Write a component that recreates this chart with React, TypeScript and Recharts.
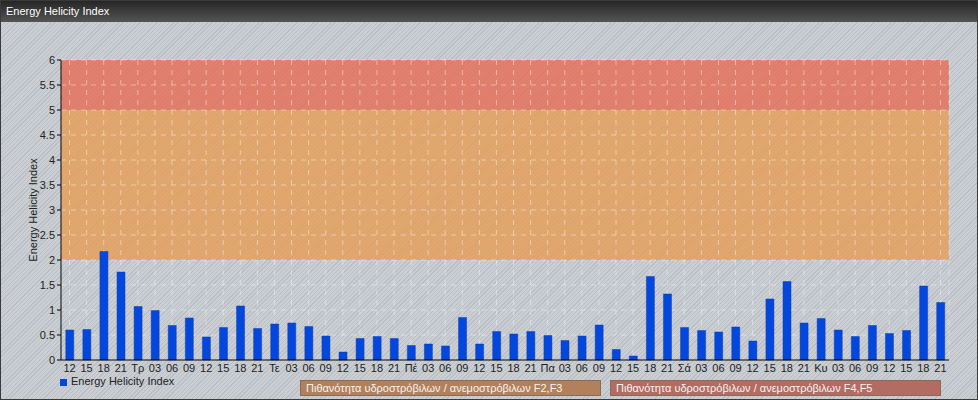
import React from "react";
import {
  BarChart,
  Bar,
  XAxis,
  YAxis,
  CartesianGrid,
} from "recharts";

const hours = [
  "12", "15", "18", "21",
  "Τρ", "03", "06", "09", "12", "15", "18", "21",
  "Τε", "03", "06", "09", "12", "15", "18", "21",
  "Πέ", "03", "06", "09", "12", "15", "18", "21",
  "Πα", "03", "06", "09", "12", "15", "18", "21",
  "Σά", "03", "06", "09", "12", "15", "18", "21",
  "Κυ", "03", "06", "09", "12", "15", "18", "21",
];

const ehiValues = [
  0.6, 0.61, 2.17, 1.76,
  1.07, 0.99, 0.69, 0.84, 0.46, 0.65, 1.08, 0.63,
  0.72, 0.74, 0.67, 0.48, 0.16, 0.43, 0.47, 0.43,
  0.29, 0.32, 0.28, 0.85, 0.32, 0.57, 0.52, 0.57,
  0.49, 0.39, 0.48, 0.7, 0.21, 0.08, 1.67, 1.32,
  0.65, 0.59, 0.56, 0.66, 0.38, 1.22, 1.57, 0.74,
  0.83, 0.6, 0.47, 0.69, 0.53, 0.59, 1.48, 1.15,
];

const yTicks = [0, 0.5, 1, 1.5, 2, 2.5, 3, 3.5, 4, 4.5, 5, 5.5, 6];

const bands = [
  { from: 2, to: 5, color: "#e69c56", label: "Πιθανότητα υδροστρόβιλων / ανεμοστρόβιλων F2,F3", legend: "#b3805c" },
  { from: 5, to: 6, color: "#e66c54", label: "Πιθανότητα υδροστρόβιλων / ανεμοστρόβιλων F4,F5", legend: "#b26c62" },
];

const data = hours.map((h, i) => ({ id: i, hour: h, ehi: ehiValues[i] }));

// stripe colours from the top tick downwards: each stripe gets the band it sits in
const stripeFill = [...yTicks].reverse().map((t) => {
  const band = bands.find((b) => t > b.from && t <= b.to);
  return band ? band.color : "transparent";
});

const font = "'Liberation Sans', Arial, sans-serif";
const hatch =
  "repeating-linear-gradient(135deg, #cbcfd3 0px, #cbcfd3 2px, #b9bfc5 2px, #b9bfc5 3px)";

function AxisTitle() {
  return (
    <text
      x={33}
      y={210}
      transform="rotate(-90 33 210)"
      textAnchor="middle"
      dominantBaseline="central"
      fontSize={11}
      fill="#222"
    >
      Energy Helicity Index
    </text>
  );
}

export default function App() {
  return (
    <div
      style={{
        position: "relative",
        width: 976,
        height: 398,
        border: "1px solid #3a3a3a",
        background: hatch,
        fontFamily: font,
        overflow: "hidden",
      }}
    >
      <style>{"body{margin:0}"}</style>
      <div
        style={{
          position: "absolute",
          left: 0,
          top: 0,
          width: 976,
          height: 21,
          background: "linear-gradient(#262626, #545454)",
          color: "#fff",
          fontSize: 11,
          lineHeight: "21px",
          paddingLeft: 5,
          boxSizing: "border-box",
        }}
      >
        Energy Helicity Index
      </div>
      <div style={{ position: "absolute", left: -1, top: -1 }}>
        <BarChart
          width={978}
          height={400}
          data={data}
          margin={{ top: 60, right: 29, bottom: 22, left: 20 }}
          barCategoryGap="28%"
          style={{ fontFamily: font }}
        >
          <CartesianGrid
            stroke="#ffffff"
            strokeOpacity={0.42}
            strokeDasharray="5 5"
            horizontalFill={stripeFill}
            fillOpacity={0.8}
          />
          <XAxis
            dataKey="id"
            tickFormatter={(i: number) => hours[i]}
            interval={0}
            tickLine={false}
            tickSize={2}
            tickMargin={2}
            height={18}
            stroke="#000"
            tick={{ fill: "#222", fontSize: 11 }}
          />
          <YAxis
            domain={[0, 6]}
            ticks={yTicks}
            interval={0}
            width={41}
            tickSize={4}
            tickMargin={2}
            stroke="#000"
            tick={{ fill: "#222", fontSize: 11 }}
            label={{ content: () => <AxisTitle /> }}
          />
          <Bar
            dataKey="ehi"
            fill="#0447dc"
            stroke="#0a3fb8"
            strokeWidth={0.5}
            isAnimationActive={false}
          />
        </BarChart>
      </div>
      <div
        style={{
          position: "absolute",
          left: 59,
          top: 374,
          fontSize: 11,
          color: "#222",
          display: "flex",
          alignItems: "center",
        }}
      >
        <span
          style={{
            display: "inline-block",
            width: 7,
            height: 7,
            background: "#0447dc",
            marginRight: 4,
            marginTop: 3,
          }}
        />
        Energy Helicity Index
      </div>
      {bands.map((b, i) => (
        <div
          key={b.label}
          style={{
            position: "absolute",
            left: i === 0 ? 299 : 609,
            top: 379,
            width: i === 0 ? 301 : 331,
            height: 16,
            boxSizing: "border-box",
            background: b.legend,
            border: "1px solid #8a6a5a",
            color: "#f4f4f4",
            fontSize: 11,
            lineHeight: "14px",
            paddingLeft: 5,
            whiteSpace: "nowrap",
          }}
        >
          {b.label}
        </div>
      ))}
    </div>
  );
}
